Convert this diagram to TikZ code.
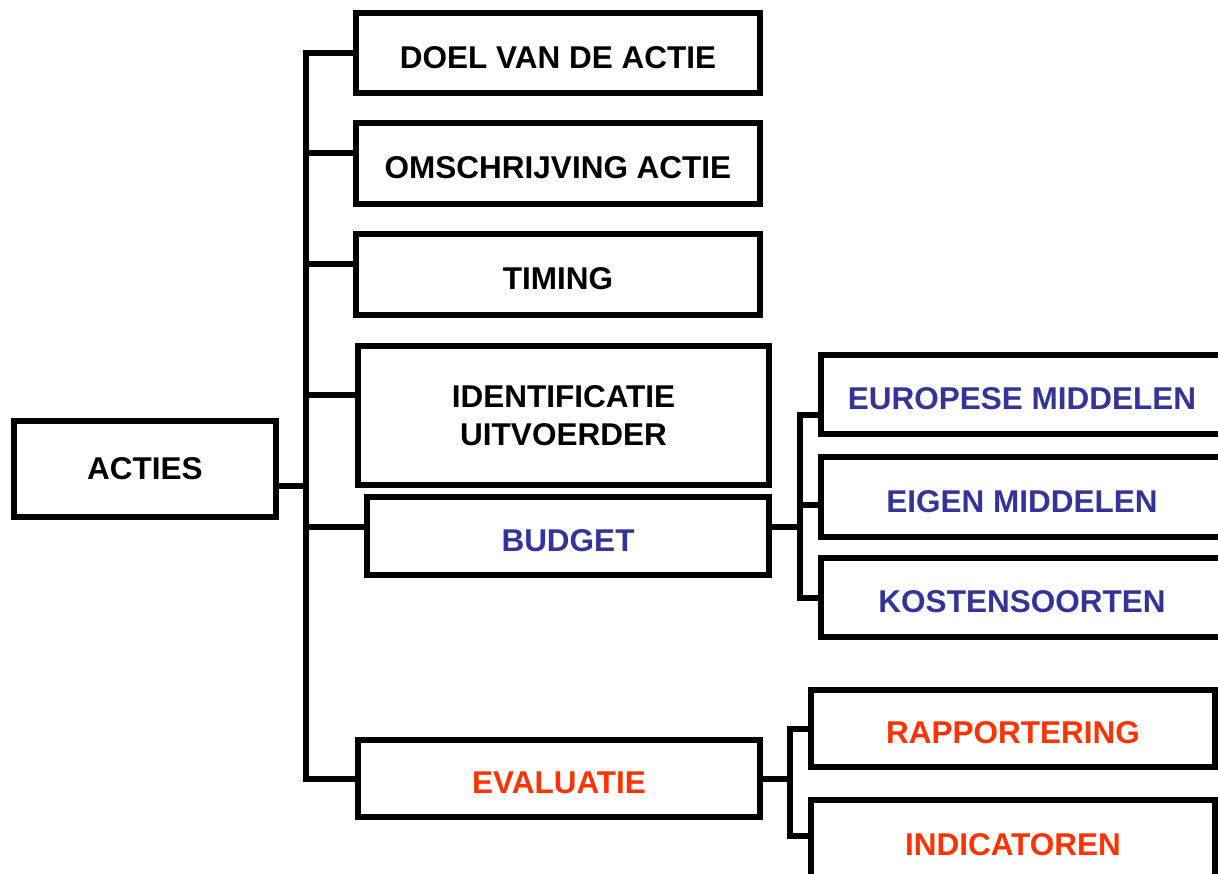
\documentclass[tikz,border=0pt]{standalone}
\usepackage{fontspec}
\setmainfont{Liberation Sans}
\usepackage{tikz}

\definecolor{budgetblue}{HTML}{333399}
\definecolor{evalred}{HTML}{FF3300}

\begin{document}
\begin{tikzpicture}[x=1pt,y=-1pt,
    box/.style={draw,line width=6pt,rectangle,inner sep=0pt,align=center,
        font=\fontsize{31.5}{38}\selectfont\bfseries},
    low/.style={text height=30.5pt,text depth=0pt},
    link/.style={line width=6pt},
    bluetext/.style={text=budgetblue},
    redtext/.style={text=evalred}]
    \useasboundingbox (0,0) rectangle (1218,874);
    \clip (0,0) rectangle (1218,874);

    \node[box,minimum width=262pt,minimum height=96pt] (acties) at (145,469) {ACTIES};

    \node[box,low,minimum width=404pt,minimum height=80pt] (doel) at (558,53) {DOEL VAN DE ACTIE};
    \node[box,low,minimum width=404pt,minimum height=81pt] (omschrijving) at (558,163.5) {OMSCHRIJVING ACTIE};
    \node[box,low,minimum width=404pt,minimum height=81pt] (timing) at (558,274.5) {TIMING};
    \node[box,minimum width=411pt,minimum height=139pt] (identificatie) at (563.5,415.5) {IDENTIFICATIE\\UITVOERDER};
    \node[box,low,bluetext,minimum width=402pt,minimum height=78pt] (budget) at (568,536) {BUDGET};
    \node[box,low,redtext,minimum width=402pt,minimum height=77pt] (evaluatie) at (559,778.5) {EVALUATIE};

    \node[box,low,bluetext,minimum width=402pt,minimum height=79pt] (europese) at (1022,394.5) {EUROPESE MIDDELEN};
    \node[box,low,bluetext,minimum width=402pt,minimum height=80pt] (eigen) at (1022,497) {EIGEN MIDDELEN};
    \node[box,low,bluetext,minimum width=402pt,minimum height=79pt] (kosten) at (1022,597.5) {KOSTENSOORTEN};

    \node[box,low,redtext,minimum width=404pt,minimum height=77pt] (rapportering) at (1013,728.5) {RAPPORTERING};
    \node[box,low,redtext,minimum width=404pt,minimum height=80pt] (indicatoren) at (1013,840) {INDICATOREN};

    \coordinate (trunk) at (306,0);
    \coordinate (budgetfork) at (800,0);
    \coordinate (evalfork) at (790,0);

    \draw[link] (doel.west) -- (doel.west -| trunk) -- (evaluatie.west -| trunk) -- (evaluatie.west);
    \draw[link] ([yshift=-17pt]acties.east) -- ([yshift=-17pt]acties.east -| trunk);
    \draw[link] ([yshift=10pt]omschrijving.west) -- ([yshift=10pt]omschrijving.west -| trunk);
    \draw[link] ([yshift=10pt]timing.west) -- ([yshift=10pt]timing.west -| trunk);
    \draw[link] ([yshift=20pt]identificatie.west) -- ([yshift=20pt]identificatie.west -| trunk);
    \draw[link] ([yshift=9pt]budget.west) -- ([yshift=9pt]budget.west -| trunk);

    \draw[link] ([yshift=-20pt]europese.west) -- ([yshift=-20pt]europese.west -| budgetfork) -- (kosten.west -| budgetfork) -- (kosten.west);
    \draw[link] ([yshift=9pt]budget.east) -- ([yshift=9pt]budget.east -| budgetfork);
    \draw[link] ([yshift=-8pt]eigen.west) -- ([yshift=-8pt]eigen.west -| budgetfork);

    \draw[link] (rapportering.west) -- (rapportering.west -| evalfork) -- ([yshift=4pt]indicatoren.west -| evalfork) -- ([yshift=4pt]indicatoren.west);
    \draw[link] (evaluatie.east) -- (evaluatie.east -| evalfork);
\end{tikzpicture}
\end{document}
